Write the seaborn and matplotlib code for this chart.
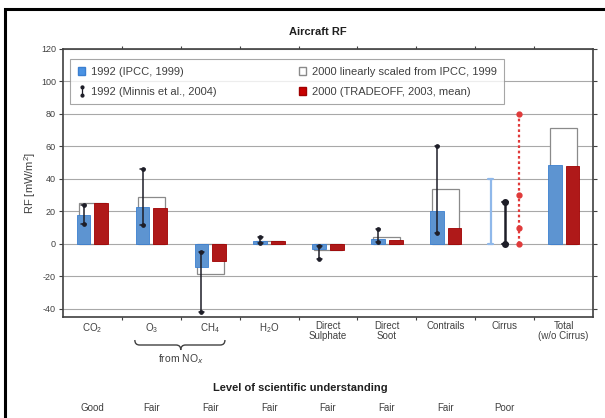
import numpy as np
import pandas as pd
import matplotlib
matplotlib.use("Agg")
import matplotlib.pyplot as plt
from matplotlib.patches import Patch, Rectangle, PathPatch
from matplotlib.lines import Line2D
from matplotlib.path import Path
import matplotlib.transforms as mtransforms
import seaborn as sns

# ---------------- data ----------------
categories = ["CO$_2$", "O$_3$", "CH$_4$", "H$_2$O", "Direct\nSulphate", "Direct\nSoot",
              "Contrails", "Cirrus", "Total\n(w/o Cirrus)"]
rf_1992_ipcc = [18.0, 23.0, -14.0, 1.5, -3.0, 3.0, 20.0, np.nan, 48.5]
rf_2000_scaled = [25.0, 28.9, -18.5, 2.0, -4.0, 4.0, 33.9, np.nan, 71.5]
rf_2000_tradeoff = [25.3, 21.9, -10.4, 2.0, -3.5, 2.5, 10.0, np.nan, 47.8]
err_low = [12.0, 11.5, -42.0, 0.5, -9.0, 1.0, 6.7, np.nan, np.nan]
err_high = [24.0, 46.0, -4.7, 4.5, -1.0, 9.0, 60.0, np.nan, np.nan]
cirrus_ipcc_range = [0.0, 40.0]
cirrus_minnis_range = [0.0, 26.0]
cirrus_tradeoff_range = [0.0, 80.0]
cirrus_tradeoff_marks = [0.0, 10.0, 30.0, 80.0]
losu = ["Good", "Fair", "Fair", "Fair", "Fair", "Fair", "Fair", "Poor"]
yticks = [-40, -20, 0, 20, 40, 60, 80, 100, 120]

BLUE = "#4a93e4"
RED = "#c80000"
LBLUE = "#8fb8ea"
DARK = "#1e1e28"
GREY = "#404040"

sns.set_style("white")
plt.rcParams["font.family"] = ["Liberation Sans", "DejaVu Sans"]
plt.rcParams["mathtext.fontset"] = "custom"
plt.rcParams["mathtext.rm"] = "Liberation Sans"

W, H = 605, 418
fig = plt.figure(figsize=(W / 100, H / 100), dpi=100)
ax = fig.add_axes([63 / W, 1 - 317 / H, 530 / W, 268 / H])

df_white = pd.DataFrame({"cat": categories, "series": ["1992"] * 9, "rf": rf_2000_scaled})
df_main = pd.DataFrame({
    "cat": categories * 2,
    "series": ["1992"] * 9 + ["2000"] * 9,
    "rf": rf_1992_ipcc + rf_2000_tradeoff,
})

sns.barplot(data=df_white, x="cat", y="rf", hue="series", hue_order=["1992", "2000"],
            order=categories, palette={"1992": "white", "2000": "white"},
            width=0.6, gap=0.23, errorbar=None, legend=False, ax=ax,
            edgecolor="#8a8a8a", linewidth=0.9, zorder=2)
sns.barplot(data=df_main, x="cat", y="rf", hue="series", hue_order=["1992", "2000"],
            order=categories, palette={"1992": BLUE, "2000": RED},
            width=0.6, gap=0.23, errorbar=None, legend=False, ax=ax,
            linewidth=0.6, zorder=3)
for p in ax.patches:
    fc = p.get_facecolor()
    if fc[0] > 0.9 and fc[1] > 0.9:
        continue
    if fc[2] > 0.5:
        p.set_edgecolor("#3b7fd0")
    else:
        p.set_edgecolor("#a00000")

# IPCC uncertainty whiskers on 1992 bars
xs = np.arange(len(categories))
for i in range(len(categories)):
    lo, hi = err_low[i], err_high[i]
    if np.isnan(lo):
        continue
    x = xs[i] - 0.15
    ax.plot([x, x], [lo, hi], color=DARK, lw=1.1, zorder=4)
    ax.plot([x - 0.04, x + 0.04], [hi, hi], color=DARK, lw=1.1, zorder=4)
    ax.plot([x - 0.04, x + 0.04], [lo, lo], color=DARK, lw=1.1, zorder=4)
    ax.plot([x, x], [lo, hi], ls="none", marker="o", ms=2.4, color=DARK, zorder=4)

# Cirrus ranges
ci = categories.index("Cirrus")
xb = ci - 0.24
ax.plot([xb, xb], cirrus_ipcc_range, color=LBLUE, lw=1.6, zorder=4)
for v in cirrus_ipcc_range:
    ax.plot([xb - 0.05, xb + 0.05], [v, v], color=LBLUE, lw=1.6, zorder=4)
xk = ci + 0.0
ax.plot([xk, xk], cirrus_minnis_range, color=DARK, lw=1.8, zorder=4)
ax.plot([xk, xk], cirrus_minnis_range, ls="none", marker="o", ms=4, color=DARK, zorder=4)
for v in cirrus_minnis_range:
    ax.plot([xk - 0.05, xk + 0.05], [v, v], color=DARK, lw=1.4, zorder=4)
xr = ci + 0.25
ax.plot([xr, xr], cirrus_tradeoff_range, color="#e03a3a", lw=1.6, ls=(0, (1.2, 1.2)), zorder=4)
ax.plot([xr] * len(cirrus_tradeoff_marks), cirrus_tradeoff_marks, ls="none", marker="o",
        ms=3.5, color="#e03a3a", zorder=4)

# axes styling
ax.set_xlim(-0.5, len(categories) - 0.5)
ax.set_ylim(-45, 120)
ax.set_yticks(yticks)
ax.set_yticklabels([str(v) for v in yticks])
ax.set_xticks(xs)
ax.set_xticklabels(categories)
ax.set_xticks(np.arange(0.5, len(categories) - 0.5, 1.0), minor=True)
ax.set_xlabel("")
ax.set_ylabel("")
ax.grid(False)
for v in yticks:
    ax.axhline(v, color="#a8a8a8", lw=0.8, zorder=1)
for s in ax.spines.values():
    s.set_visible(True)
    s.set_color(GREY)
    s.set_linewidth(1.2)
ax.tick_params(axis="y", which="major", left=True, right=True, direction="out",
               length=3, width=0.8, color=GREY, labelsize=6.5, labelcolor=GREY, pad=2)
ax.tick_params(axis="x", which="major", length=0, labelsize=7, labelcolor=GREY, pad=3)
ax.tick_params(axis="x", which="minor", bottom=True, top=True, direction="out",
               length=2.5, width=0.8, color=GREY)
for lab in ax.get_xticklabels():
    lab.set_linespacing(1.0)

# legend
def minnis_marker():
    circ_t = Path.circle((0, 1.0), 0.35)
    circ_b = Path.circle((0, -1.0), 0.35)
    line = Path([(0, -1.0), (0, 1.0)], [Path.MOVETO, Path.LINETO])
    return Path.make_compound_path(circ_t, circ_b, line)

handles = [
    Patch(facecolor=BLUE, edgecolor="#3b7fd0", label="1992 (IPCC, 1999)"),
    Line2D([], [], ls="none", marker=minnis_marker(), ms=8, color=DARK,
           markeredgewidth=0.9, label="1992 (Minnis et al., 2004)"),
    Patch(facecolor="white", edgecolor="#8a8a8a", label="2000 linearly scaled from IPCC, 1999"),
    Patch(facecolor=RED, edgecolor="#a00000", label="2000 (TRADEOFF, 2003, mean)"),
]
leg = ax.legend(handles=handles, ncol=2, loc="upper left",
                bbox_to_anchor=(0.013, 0.785, 0.82, 0.178), mode="expand",
                borderaxespad=0, fontsize=8, frameon=True, fancybox=False,
                handlelength=0.7, handleheight=0.7, handletextpad=0.5,
                columnspacing=1.0, labelspacing=0.9, borderpad=0.7)
leg.get_frame().set_edgecolor("#909090")
leg.get_frame().set_linewidth(0.8)
for t in leg.get_texts():
    t.set_color(GREY)
leg.set_zorder(5)

# titles / labels
fig.text(318 / W, 1 - 32 / H, "Aircraft RF", ha="center", va="center",
         fontsize=8, fontweight="bold", color="#202020")
fig.text(30 / W, 1 - 183 / H, "RF [mW/m$^2$]", rotation=90, ha="center", va="center",
         fontsize=8, color=GREY)

# brace under O3 and CH4
trans = mtransforms.blended_transform_factory(ax.transData, fig.transFigure)
xa, xc, xe = 0.72, 1.5, 2.25
y0 = 1 - 340 / H
y1 = 1 - 345 / H
y2 = 1 - 350 / H
dx = 0.08
v1 = [(xa, y0), (xa, y1), (xa + dx, y1), (xc - dx, y1), (xc, y1), (xc, y2)]
c1 = [Path.MOVETO, Path.CURVE3, Path.CURVE3, Path.LINETO, Path.CURVE3, Path.CURVE3]
v2 = [(xc, y2), (xc, y1), (xc + dx, y1), (xe - dx, y1), (xe, y1), (xe, y0)]
c2 = [Path.MOVETO, Path.CURVE3, Path.CURVE3, Path.LINETO, Path.CURVE3, Path.CURVE3]
for vv, cc in ((v1, c1), (v2, c2)):
    fig.add_artist(PathPatch(Path(vv, cc), transform=trans, fill=False,
                             edgecolor=GREY, lw=1.0, clip_on=False))
fig.text(1.5, 1 - 359 / H, "from NO$_x$", transform=trans, ha="center", va="center",
         fontsize=7.5, color=GREY)

# level of scientific understanding
fig.text(300 / W, 1 - 388 / H, "Level of scientific understanding", ha="center",
         va="center", fontsize=8, fontweight="bold", color="#202020")
for i, s in enumerate(losu):
    fig.text(i, 1 - 408 / H, s, transform=trans, ha="center", va="center",
             fontsize=7, color=GREY)

# figure frame (top-left visible)
fig.add_artist(Rectangle((5 / W, -0.1), 1.2, 1.1 - 9 / H, transform=fig.transFigure,
                         fill=False, edgecolor="black", lw=2.2, clip_on=False))

fig.savefig("out.png", dpi=100)
